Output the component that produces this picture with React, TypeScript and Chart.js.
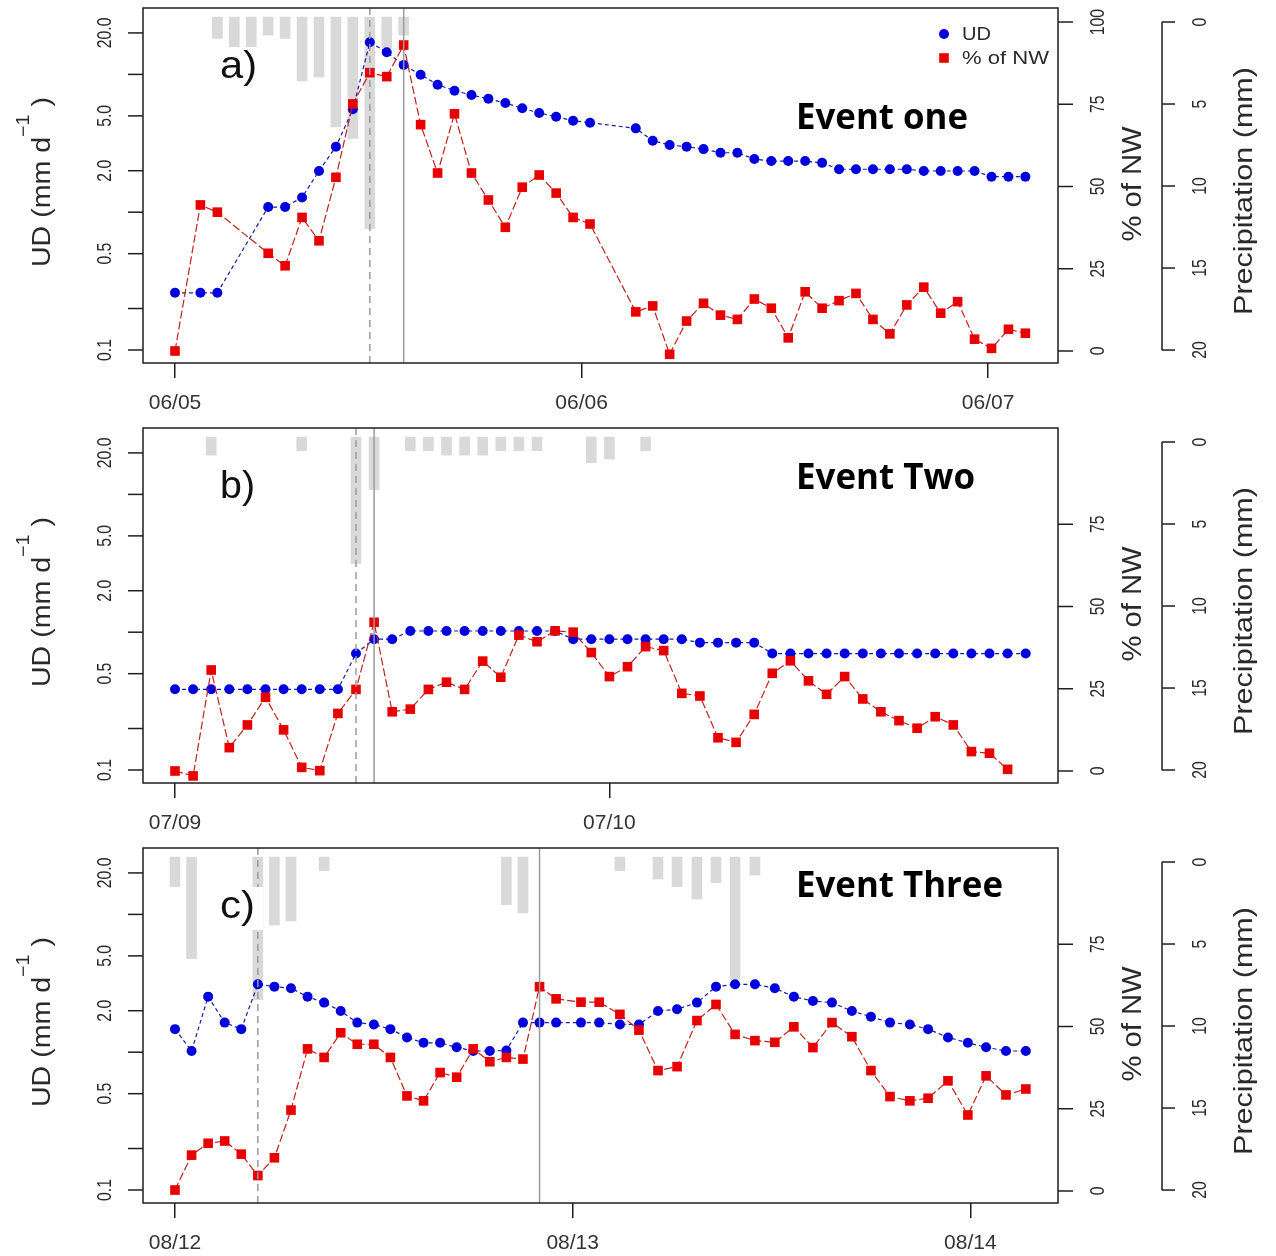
import React, { useEffect, useRef } from 'react';
import { Chart, registerables } from 'chart.js';

Chart.register(...registerables);
Chart.defaults.font.family = '"Liberation Sans", Arial, sans-serif';

// ===== shared axis ticks =====
const UD_TICKS = [0.1, 0.2, 0.5, 1, 2, 5, 10, 20];
const UD_TICK_LABELS = ['0.1', '', '0.5', '', '2.0', '5.0', '', '20.0'];
const NW_TICKS_A = [0, 25, 50, 75, 100];
const NW_TICKS_BC = [0, 25, 50, 75];
const RAIN_TICKS = [0, 5, 10, 15, 20];

// ===== panel a : Event one =====
const A_DATES = ['06/05', '06/06', '06/07'];
const A_DAY_TICKS = [0, 24, 48];
const A_HOURS = [0, 1.5, 2.5, 5.5, 6.5, 7.5, 8.5, 9.5, 10.5, 11.5, 12.5, 13.5, 14.5, 15.5, 16.5, 17.5, 18.5, 19.5, 20.5, 21.5, 22.5, 23.5, 24.5,
  27.2, 28.2, 29.2, 30.2, 31.2, 32.2, 33.2, 34.2, 35.2, 36.2, 37.2, 38.2, 39.2, 40.2, 41.2, 42.2, 43.2, 44.2, 45.2, 46.2, 47.2, 48.2, 49.2, 50.2];
const A_UD = [0.26, 0.26, 0.26, 1.09, 1.09, 1.28, 1.99, 2.99, 5.58, 17.1, 14.5, 11.7, 9.95, 8.42, 7.62, 7.08, 6.66, 6.2, 5.68, 5.25, 4.93, 4.61, 4.46,
  4.06, 3.3, 3.07, 2.99, 2.87, 2.7, 2.7, 2.43, 2.35, 2.35, 2.35, 2.28, 2.05, 2.05, 2.05, 2.05, 2.05, 1.99, 1.99, 1.99, 1.99, 1.81, 1.81, 1.81];
const A_NW = [0, 44.4, 42.2, 29.7, 25.9, 40.6, 33.5, 52.8, 75.1, 84.6, 83.4, 93.0, 68.8, 54.1, 72.1, 54.1, 45.9, 37.6, 49.8, 53.5, 48.0, 40.6, 38.6,
  11.9, 13.7, -1.0, 9.1, 14.5, 10.9, 9.6, 15.8, 13.0, 4.0, 18.0, 13.0, 15.3, 17.5, 9.6, 5.2, 14.0, 19.4, 11.5, 15.0, 3.6, 0.8, 6.6, 5.4];
const A_RAIN_HOURS = [2.5, 3.5, 4.5, 5.5, 6.5, 7.5, 8.5, 9.5, 10.5, 11.5, 12.5, 13.5];
const A_RAIN = [1.0, 2.5, 2.5, 0.8, 1.0, 3.6, 3.35, 6.4, 7.1, 12.6, 1.6, 0.8];
const A_EVENT = [11.5, 13.5];

// ===== panel b : Event Two =====
const B_DATES = ['07/09', '07/10'];
const B_DAY_TICKS = [0, 24];
const B_HOURS = [0, 1, 2, 3, 4, 5, 6, 7, 8, 9, 10, 11, 12, 13, 14, 15, 16, 17, 18, 19, 20, 21, 22, 23,
  24, 25, 26, 27, 28, 29, 30, 31, 32, 33, 34, 35, 36, 37, 38, 39, 40, 41, 42, 43, 44, 45, 46, 47];
const B_UD = [0.385, 0.385, 0.385, 0.385, 0.385, 0.385, 0.385, 0.385, 0.385, 0.385, 0.7, 0.89, 0.89,
  1.02, 1.02, 1.02, 1.02, 1.02, 1.02, 1.02, 1.02, 1.02, 0.89, 0.89, 0.89, 0.89, 0.89, 0.89, 0.89,
  0.84, 0.84, 0.84, 0.84, 0.7, 0.7, 0.7, 0.7, 0.7, 0.7, 0.7, 0.7, 0.7, 0.7, 0.7, 0.7, 0.7, 0.7, 0.7];
const B_NW = [0, -1.5, 30.7, 7.1, 14.0, 22.4, 12.5, 1.1, 0.1, 17.5, 24.8, 45.2, 18.0, 18.8, 24.8, 27.0, 24.8, 33.4, 28.5, 41.3, 39.3, 42.6, 42.2, 36.0,
  28.7, 31.7, 37.8, 36.6, 23.6, 22.8, 10.1, 8.7, 17.2, 29.7, 33.5, 27.4, 23.3, 28.7, 21.9, 18.0, 15.3, 13.0, 16.5, 14.0, 5.9, 5.4, 0.5];
const B_RAIN_HOURS = [2, 7, 10, 11, 13, 14, 15, 16, 17, 18, 19, 20, 23, 24, 26];
const B_RAIN = [0.8, 0.53, 7.4, 2.9, 0.53, 0.53, 0.8, 0.8, 0.8, 0.53, 0.53, 0.53, 1.26, 1.04, 0.53];
const B_EVENT = [10, 11];

// ===== panel c : Event Three =====
const C_DATES = ['08/12', '08/13', '08/14'];
const C_DAY_TICKS = [0, 24, 48];
const C_HOURS = [0, 1, 2, 3, 4, 5, 6, 7, 8, 9, 10, 11, 12, 13, 14, 15, 16, 17, 18, 19, 20, 21, 22, 23, 24.5,
  25.6, 26.85, 28.0, 29.15, 30.3, 31.5, 32.65, 33.8, 35.0, 36.2, 37.35, 38.5, 39.65, 40.85, 42.0, 43.15, 44.35, 45.45, 46.65, 47.85, 48.95, 50.15, 51.35];
const C_UD = [1.47, 1.02, 2.53, 1.64, 1.47, 3.11, 2.99, 2.91, 2.53, 2.29, 1.99, 1.64, 1.59, 1.47, 1.28, 1.17, 1.17, 1.085, 1.02, 1.02, 1.03, 1.64, 1.64, 1.64, 1.64,
  1.64, 1.59, 1.59, 1.99, 2.05, 2.29, 2.99, 3.11, 3.11, 2.91, 2.53, 2.35, 2.29, 1.99, 1.81, 1.64, 1.59, 1.47, 1.28, 1.17, 1.085, 1.02, 1.02];
const C_NW = [0.3, 10.9, 14.5, 15.2, 11.2, 4.7, 10.1, 24.6, 43.2, 40.6, 48.1, 44.6, 44.6, 40.6, 28.9, 27.4, 36.0, 34.6, 43.2, 39.3, 40.6, 40.1, 62.1, 58.4, 57.4,
  57.4, 53.7, 48.9, 36.6, 37.8, 51.8, 56.7, 47.6, 45.7, 45.2, 49.9, 43.6, 51.2, 46.9, 36.6, 28.7, 27.4, 28.2, 33.5, 23.1, 35.0, 29.2, 31.0];
const C_RAIN_HOURS = [0, 1, 5, 6, 7, 9, 20, 21, 26.85, 29.15, 30.3, 31.5, 32.65, 33.8, 35.0];
const C_RAIN = [1.5, 5.9, 8.4, 3.84, 3.6, 0.53, 2.6, 3.1, 0.53, 1.04, 1.5, 2.26, 1.26, 7.15, 0.8];
const C_EVENT = [5, 22];

// ===== styling =====
const BLUE = '#0000dc';
const BLUE_LINE = '#1a1aa8';
const RED = '#e80000';
const RED_LINE = '#c02020';
const BAR = '#d9d9d9';
const AXIS = '#1e1e1e';
const TXT = '#2a2a2a';
const EVENT_LINE = '#9c9c9c';

type PanelCfg = {
  letter: string; letterWidth: number; title: string; titleBaseline: number; titleWidth: number;
  dates: string[]; dayTicks: number[]; hours: number[]; ud: number[]; nw: number[];
  rainHours: number[]; rain: number[]; event: number[]; nwTicks: number[];
  xMin: number; xMax: number; legend: boolean; height: number;
};

const PANELS: PanelCfg[] = [
  { letter: 'a)', letterWidth: 37, title: 'Event one', titleBaseline: 129, titleWidth: 172, dates: A_DATES, dayTicks: A_DAY_TICKS,
    hours: A_HOURS, ud: A_UD, nw: A_NW, rainHours: A_RAIN_HOURS, rain: A_RAIN, event: A_EVENT, nwTicks: NW_TICKS_A,
    xMin: -1.889, xMax: 52.125, legend: true, height: 420 },
  { letter: 'b)', letterWidth: 35, title: 'Event Two', titleBaseline: 69, titleWidth: 179, dates: B_DATES, dayTicks: B_DAY_TICKS,
    hours: B_HOURS, ud: B_UD, nw: B_NW, rainHours: B_RAIN_HOURS, rain: B_RAIN, event: B_EVENT, nwTicks: NW_TICKS_BC,
    xMin: -1.768, xMax: 48.785, legend: false, height: 420 },
  { letter: 'c)', letterWidth: 35, title: 'Event Three', titleBaseline: 57, titleWidth: 207, dates: C_DATES, dayTicks: C_DAY_TICKS,
    hours: C_HOURS, ud: C_UD, nw: C_NW, rainHours: C_RAIN_HOURS, rain: C_RAIN, event: C_EVENT, nwTicks: NW_TICKS_BC,
    xMin: -1.931, xMax: 53.29, legend: false, height: 416 },
];

function rotText(ctx: CanvasRenderingContext2D, text: string, cx: number, cy: number, font: string, sx: number, color: string) {
  ctx.save();
  ctx.font = font;
  ctx.fillStyle = color;
  ctx.textAlign = 'center';
  ctx.textBaseline = 'middle';
  ctx.translate(cx, cy);
  ctx.rotate(-Math.PI / 2);
  ctx.scale(sx, 1);
  ctx.fillText(text, 0, 0);
  ctx.restore();
}

function rotTextFit(ctx: CanvasRenderingContext2D, text: string, cx: number, cy: number, font: string, len: number, color: string) {
  ctx.save();
  ctx.font = font;
  const w = ctx.measureText(text).width;
  ctx.restore();
  rotText(ctx, text, cx, cy, font, len / w, color);
}

function textFit(ctx: CanvasRenderingContext2D, text: string, x: number, y: number, font: string, len: number, color: string, baseline: CanvasTextBaseline) {
  ctx.save();
  ctx.font = font;
  const w = ctx.measureText(text).width;
  ctx.fillStyle = color;
  ctx.textAlign = 'left';
  ctx.textBaseline = baseline;
  ctx.translate(x, y);
  ctx.scale(len / w, 1);
  ctx.fillText(text, 0, 0);
  ctx.restore();
}

function drawUDTitle(ctx: CanvasRenderingContext2D, cx: number, cy: number, len: number) {
  const mainFont = '26px "Liberation Sans"';
  const supFont = '18px "Liberation Sans"';
  const t1 = 'UD (mm d';
  const t2 = '\u22121';
  const t3 = ' )';
  ctx.save();
  ctx.font = mainFont;
  const w1 = ctx.measureText(t1).width;
  const w3 = ctx.measureText(t3).width;
  ctx.font = supFont;
  const w2 = ctx.measureText(t2).width;
  const total = w1 + w2 + w3;
  ctx.translate(cx, cy);
  ctx.rotate(-Math.PI / 2);
  ctx.scale(len / total, 1);
  ctx.fillStyle = TXT;
  ctx.textAlign = 'left';
  ctx.textBaseline = 'alphabetic';
  const x0 = -total / 2;
  const base = 9;
  ctx.font = mainFont;
  ctx.fillText(t1, x0, base);
  ctx.font = supFont;
  ctx.fillText(t2, x0 + w1, base - 21);
  ctx.font = mainFont;
  ctx.fillText(t3, x0 + w1 + w2, base);
  ctx.restore();
}

function line(ctx: CanvasRenderingContext2D, x1: number, y1: number, x2: number, y2: number) {
  ctx.beginPath();
  ctx.moveTo(x1, y1);
  ctx.lineTo(x2, y2);
  ctx.stroke();
}

function makeDecor(p: PanelCfg) {
  return {
    id: 'decor',
    afterDatasetsDraw(chart: any) {
      const { ctx, chartArea: ca, scales } = chart;
      ctx.save();
      ctx.strokeStyle = EVENT_LINE;
      ctx.lineWidth = 1.5;
      p.event.forEach((h, i) => {
        const x = scales.x.getPixelForValue(h);
        ctx.setLineDash(i === 0 ? [7, 5] : []);
        line(ctx, x, ca.top, x, ca.bottom);
      });
      ctx.restore();
    },
    afterDraw(chart: any) {
      const { ctx, chartArea: ca, scales } = chart;
      const yL = scales.y;
      const yP = scales.yp;
      const yR = scales.yr;
      const tickFont = '21px "Liberation Sans"';
      const tickSx = 0.75;
      ctx.save();
      // panel letter with white background
      ctx.fillStyle = '#ffffff';
      ctx.fillRect(213, 47, 50, 43);
      textFit(ctx, p.letter, 220, 78, '38px "Liberation Sans"', p.letterWidth, '#111', 'alphabetic');
      // event title
      textFit(ctx, p.title, 796, p.titleBaseline, 'bold 35px "Open Sans"', p.titleWidth, '#000', 'alphabetic');
      // frame
      ctx.strokeStyle = AXIS;
      ctx.lineWidth = 1.5;
      ctx.strokeRect(ca.left, ca.top, ca.right - ca.left, ca.bottom - ca.top);
      // left log axis
      UD_TICKS.forEach((v, i) => {
        const y = yL.getPixelForValue(v);
        line(ctx, ca.left - 15, y, ca.left, y);
        if (UD_TICK_LABELS[i]) rotText(ctx, UD_TICK_LABELS[i], 105, y, tickFont, tickSx, TXT);
      });
      drawUDTitle(ctx, 41, 182, 170);
      // right % of NW axis
      p.nwTicks.forEach((v) => {
        const y = yP.getPixelForValue(v);
        line(ctx, ca.right, y, ca.right + 15, y);
        rotText(ctx, String(v), 1098, y, tickFont, tickSx, TXT);
      });
      rotTextFit(ctx, '% of NW', 1134, 184, '27px "Liberation Sans"', 115, TXT);
      // precipitation axis
      const px = 1162;
      line(ctx, px, yR.getPixelForValue(0), px, yR.getPixelForValue(20));
      RAIN_TICKS.forEach((v) => {
        const y = yR.getPixelForValue(v);
        line(ctx, px, y, px + 13, y);
        rotText(ctx, String(v), 1200, y, tickFont, tickSx, TXT);
      });
      rotTextFit(ctx, 'Precipitation (mm)', 1245, 191, '26px "Liberation Sans"', 248, TXT);
      // legend
      if (p.legend) {
        ctx.fillStyle = BLUE;
        ctx.beginPath();
        ctx.arc(944, 34, 5, 0, Math.PI * 2);
        ctx.fill();
        ctx.fillStyle = RED;
        ctx.fillRect(944 - 4.8, 58 - 4.8, 9.6, 9.6);
        textFit(ctx, 'UD', 962, 35, '18px "Liberation Sans"', 29, TXT, 'middle');
        textFit(ctx, '% of NW', 962, 59, '18px "Liberation Sans"', 87, TXT, 'middle');
      }
      ctx.restore();
    },
  };
}

function makeConfig(p: PanelCfg): any {
  return {
    type: 'line',
    data: {
      datasets: [
        {
          label: '% of NW', type: 'line', yAxisID: 'yp', order: 0,
          data: p.nw.map((v, i) => ({ x: p.hours[i], y: v })),
          borderColor: RED_LINE, borderWidth: 1.2, borderDash: [8, 3], tension: 0,
          pointStyle: 'rect', pointRadius: 6.8, pointBackgroundColor: RED, pointBorderWidth: 0, pointBorderColor: RED,
        },
        {
          label: 'UD', type: 'line', yAxisID: 'y', order: 1,
          data: p.ud.map((v, i) => ({ x: p.hours[i], y: v })),
          borderColor: BLUE_LINE, borderWidth: 1.2, borderDash: [4, 3], tension: 0,
          pointStyle: 'circle', pointRadius: 5, pointBackgroundColor: BLUE, pointBorderWidth: 0, pointBorderColor: BLUE,
        },
        {
          label: 'Precipitation', type: 'bar', yAxisID: 'yr', order: 2,
          data: p.rain.map((v, i) => ({ x: p.rainHours[i], y: v })),
          backgroundColor: BAR, borderWidth: 0, barThickness: 10, base: -0.3, grouped: false,
        },
      ],
    },
    options: {
      responsive: false,
      maintainAspectRatio: false,
      animation: false,
      events: [],
      layout: { padding: { left: 143, right: 218, top: 8, bottom: 0 } },
      plugins: { legend: { display: false }, tooltip: { enabled: false } },
      scales: {
        x: {
          type: 'linear', position: 'bottom', min: p.xMin, max: p.xMax, offset: false,
          afterBuildTicks: (s: any) => { s.ticks = p.dayTicks.map((v) => ({ value: v })); },
          afterFit: (s: any) => { s.height = p.height - 363; },
          border: { display: false },
          grid: { display: true, offset: false, drawOnChartArea: false, drawTicks: true, tickLength: 15, color: AXIS, lineWidth: 1.5 },
          ticks: {
            autoSkip: false, maxRotation: 0, minRotation: 0, padding: 13, color: '#333',
            font: { family: '"Liberation Sans"', size: 21 },
            callback: (_v: any, i: number) => p.dates[i],
          },
        },
        y: { type: 'logarithmic', display: false, min: 0.08046, max: 30.33 },
        yp: { type: 'linear', display: false, min: -3.65, max: 104.26 },
        yr: { type: 'linear', display: false, reverse: true, min: -0.854, max: 20.79 },
      },
    },
    plugins: [makeDecor(p)],
  };
}

function Panel({ cfg }: { cfg: PanelCfg }) {
  const ref = useRef<HTMLCanvasElement>(null);
  useEffect(() => {
    if (!ref.current) return;
    const chart = new Chart(ref.current, makeConfig(cfg));
    return () => chart.destroy();
  }, [cfg]);
  return <canvas ref={ref} width={1276} height={cfg.height} style={{ display: 'block', width: 1276, height: cfg.height }} />;
}

export default function App() {
  return (
    <div style={{ position: 'absolute', left: 0, top: 0, width: 1276, height: 1256, overflow: 'hidden', background: '#ffffff' }}>
      {PANELS.map((p) => (
        <Panel key={p.letter} cfg={p} />
      ))}
    </div>
  );
}
